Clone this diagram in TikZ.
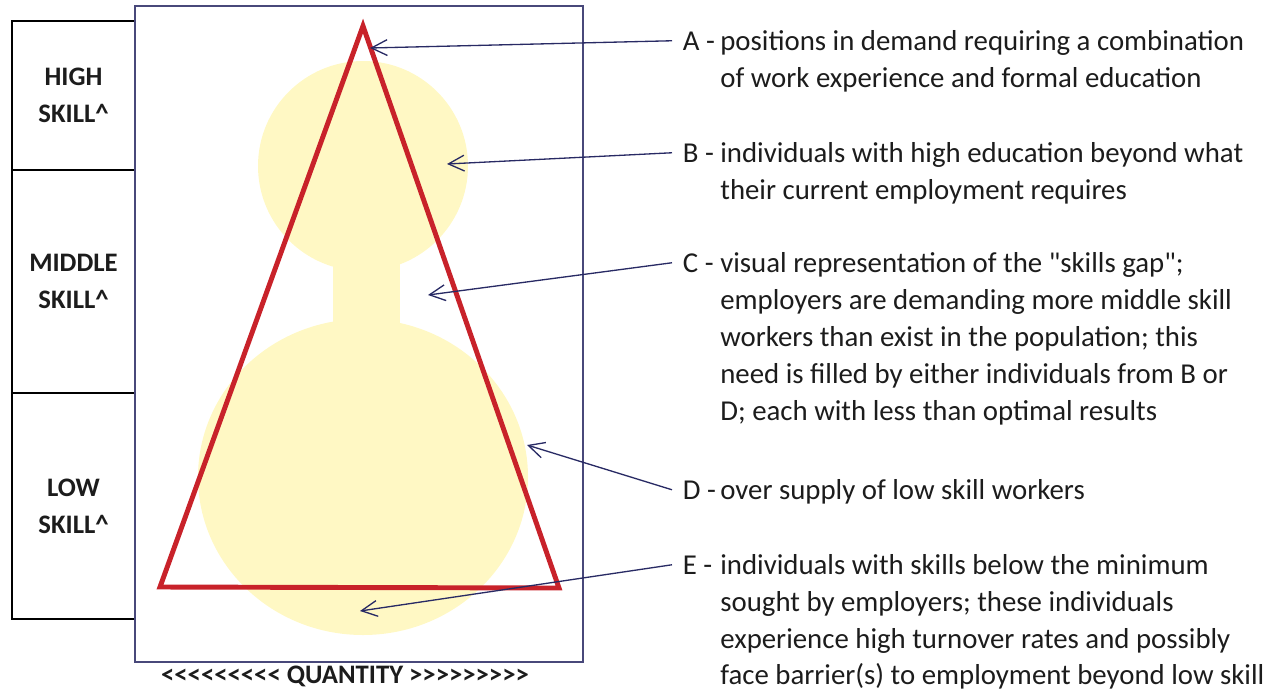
\documentclass[tikz,border=0pt]{standalone}
\usepackage{fontspec}
\setmainfont{Carlito}[Ligatures=TeXOff]
\usetikzlibrary{arrows.meta}

\definecolor{blobyellow}{RGB}{255,248,196}
\definecolor{trired}{RGB}{200,34,42}
\definecolor{panelblue}{RGB}{72,72,122}
\definecolor{pointblue}{RGB}{40,42,100}
\definecolor{ink}{RGB}{28,28,28}

\tikzset{
  skillbox/.style={draw=black, line width=1.1pt, minimum width=2.46cm, inner sep=0pt,
    align=center, text=ink, font=\bfseries\fontsize{15.2}{21}\selectfont},
  tag/.style={anchor=base west, inner xsep=6pt, inner ysep=2pt, text=ink,
    font=\fontsize{16.4}{21}\selectfont},
  textline/.style={anchor=base west, inner sep=0pt, text=ink,
    font=\fontsize{16.4}{21}\selectfont},
  pointer/.style={draw=pointblue, line width=0.75pt,
    -{Straight Barb[length=9pt,width=9pt]}},
}

\begin{document}
\begin{tikzpicture}[x=0.02cm, y=-0.02cm]
  \useasboundingbox (0,0) rectangle (1268,691);

  % skill levels
  \node[skillbox, minimum height=2.98cm] (high) at (73.5,95.5) {HIGH\\SKILL\textasciicircum};
  \node[skillbox, minimum height=4.46cm] (middle) at (73.5,281.5) {MIDDLE\\SKILL\textasciicircum};
  \node[skillbox, minimum height=4.52cm] (low) at (73.5,506) {LOW\\SKILL\textasciicircum};

  % supply of workers
  \fill[blobyellow] (363,166) circle [radius=105];
  \fill[blobyellow] (333,255) rectangle (400,330);
  \fill[blobyellow] (363,477) ellipse [x radius=165, y radius=158];

  % demand
  \coordinate (apex) at (363,26);
  \coordinate (bl) at (160,587);
  \coordinate (br) at (559,588);
  \draw[trired, line width=2.8pt, line join=miter] (apex) -- (bl) -- (br) -- cycle;

  \draw[panelblue, line width=0.8pt] (135,6) rectangle (583,662);
  \node[font=\bfseries\fontsize{15.2}{18}\selectfont, text=ink] (qty) at (345,676)
    {<<<<<<<<< QUANTITY >>>>>>>>>};

  \coordinate (tipA) at (370,48);
  \coordinate (tipB) at (447,164);
  \coordinate (tipC) at (428,295);
  \coordinate (tipD) at (527,445);
  \coordinate (tipE) at (360,611);

  % notes
  \node[tag] (la) at (672,50) {A -};
  \node[textline] (a1) at (720,50) {positions in demand requiring a combination};
  \node[textline] (a2) at (720,87) {of work experience and formal education};

  \node[tag] (lb) at (672,162) {B -};
  \node[textline] (b1) at (720,162) {individuals with high education beyond what};
  \node[textline] (b2) at (720,199) {their current employment requires};

  \node[tag] (lc) at (672,272) {C -};
  \node[textline] (c1) at (720,272) {visual representation of the "skills gap";};
  \node[textline] (c2) at (720,309) {employers are demanding more middle skill};
  \node[textline] (c3) at (720,346) {workers than exist in the population; this};
  \node[textline] (c4) at (720,383) {need is filled by either individuals from B or};
  \node[textline] (c5) at (720,420) {D; each with less than optimal results};

  \node[tag] (ld) at (672,499) {D -};
  \node[textline] (d1) at (720,499) {over supply of low skill workers};

  \node[tag] (le) at (672,574) {E -};
  \node[textline] (e1) at (720,574) {individuals with skills below the minimum};
  \node[textline] (e2) at (720,611) {sought by employers; these individuals};
  \node[textline] (e3) at (720,648) {experience high turnover rates and possibly};
  \node[textline] (e4) at (720,684) {face barrier(s) to employment beyond low skill};

  \draw[pointer] (la.west) -- (tipA);
  \draw[pointer] (lb.west) -- (tipB);
  \draw[pointer] (lc.west) -- (tipC);
  \draw[pointer] (ld.west) -- (tipD);
  \draw[pointer] (le.west) -- (tipE);
\end{tikzpicture}
\end{document}
